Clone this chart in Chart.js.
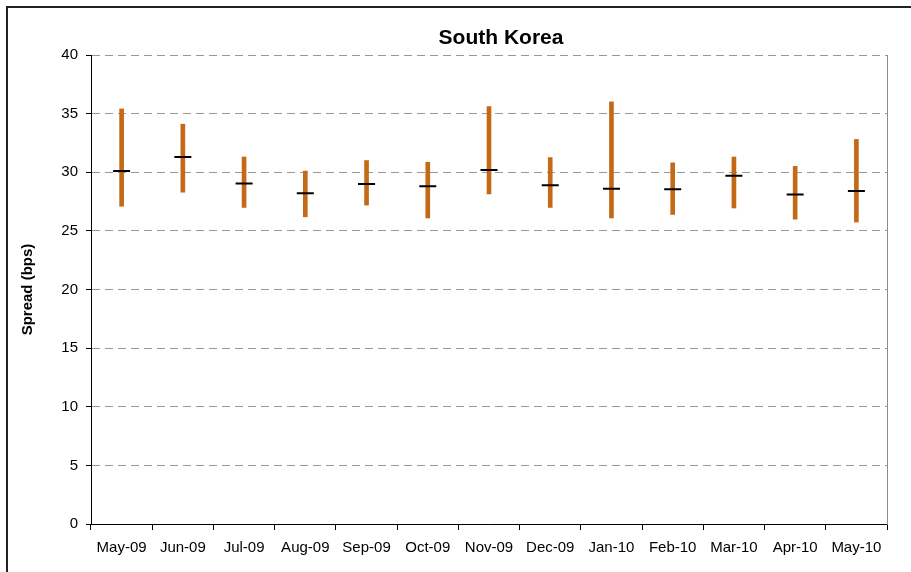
<!DOCTYPE html>
<html>
<head>
<meta charset="utf-8">
<script src="https://cdn.jsdelivr.net/npm/chart.js@4.4.0/dist/chart.umd.min.js"></script>
<style>
  html, body { margin: 0; padding: 0; background: #fff; }
  #frame { position: absolute; left: 6px; top: 6px; width: 920px; height: 600px;
           border-top: 2px solid #222; border-left: 2px solid #222; }
  #wrap { position: absolute; left: 0; top: 0; width: 911px; height: 572px; }
</style>
</head>
<body>
<div id="frame"></div>
<div id="wrap"><canvas id="spreadChart" width="911" height="572"></canvas></div>
<script>
var months = ["May-09", "Jun-09", "Jul-09", "Aug-09", "Sep-09", "Oct-09", "Nov-09",
              "Dec-09", "Jan-10", "Feb-10", "Mar-10", "Apr-10", "May-10"];
var highs = [35.4, 34.1, 31.3, 30.1, 31.0, 30.85, 35.6, 31.25, 36.0, 30.8, 31.3, 30.5, 32.8];
var lows  = [27.1, 28.3, 27.0, 26.2, 27.2, 26.1, 28.15, 27.0, 26.1, 26.4, 26.95, 26.0, 25.75];
var avgs  = [30.1, 31.3, 29.05, 28.2, 29.0, 28.8, 30.2, 28.9, 28.6, 28.55, 29.7, 28.1, 28.4];
var yTicks = [0, 5, 10, 15, 20, 25, 30, 35, 40];

var font = "'Liberation Sans', Arial, sans-serif";
var ranges = months.map(function (m, i) { return [lows[i], highs[i]]; });

// title drawn by hand so it sits where Excel put it
var titlePlugin = {
  id: "excelTitle",
  afterDraw: function (chart) {
    var ctx = chart.ctx;
    ctx.save();
    ctx.font = "bold 21px " + font;
    ctx.fillStyle = "#000";
    ctx.textAlign = "center";
    ctx.textBaseline = "middle";
    ctx.fillText("South Korea", 501, 38);
    ctx.restore();
  }
};

var config = {
  type: "bar",
  data: {
    labels: months,
    datasets: [
      {
        type: "line",
        label: "Average",
        data: avgs,
        showLine: false,
        pointStyle: "line",
        pointRadius: 8.5,
        pointBorderWidth: 2,
        pointBorderColor: "#000",
        pointBackgroundColor: "#000",
        order: 0
      },
      {
        label: "Range",
        data: ranges,
        backgroundColor: "rgb(196,106,22)",
        barThickness: 4,
        order: 1
      }
    ]
  },
  options: {
    responsive: false,
    animation: false,
    layout: { padding: { left: 0, right: 24, top: 55, bottom: 0 } },
    plugins: {
      legend: { display: false },
      title: { display: false },
      tooltip: { enabled: false }
    },
    scales: {
      x: {
        offset: true,
        grid: { offset: true, drawOnChartArea: false, drawTicks: true, tickLength: 6, color: "#000" },
        border: { color: "#000", width: 1 },
        ticks: { color: "#000", font: { family: font, size: 15 }, padding: 9, maxRotation: 0, autoSkip: false },
        afterFit: function (s) { s.height = 48; }
      },
      y: {
        min: 0,
        max: 40,
        afterBuildTicks: function (s) { s.ticks = yTicks.map(function (v) { return { value: v }; }); },
        grid: { color: "#999", tickColor: "#000", tickLength: 5, borderDash: [8, 5] },
        border: { color: "#000", width: 1, dash: [8, 5] },
        ticks: { color: "#000", font: { family: font, size: 15 }, padding: 8 },
        title: { display: true, text: "Spread (bps)", color: "#000",
                 font: { family: font, size: 15, weight: "bold" }, padding: { top: 19, bottom: 0 } },
        afterFit: function (s) { s.width = 91; }
      },
      y2: {
        position: "right",
        min: 0,
        max: 40,
        grid: { display: false, drawTicks: false },
        border: { color: "#8c8c8c", width: 1 },
        ticks: { display: false },
        afterFit: function (s) { s.width = 0; }
      }
    }
  },
  plugins: [titlePlugin]
};

var myChart = new Chart(document.getElementById("spreadChart"), config);
</script>
</body>
</html>
